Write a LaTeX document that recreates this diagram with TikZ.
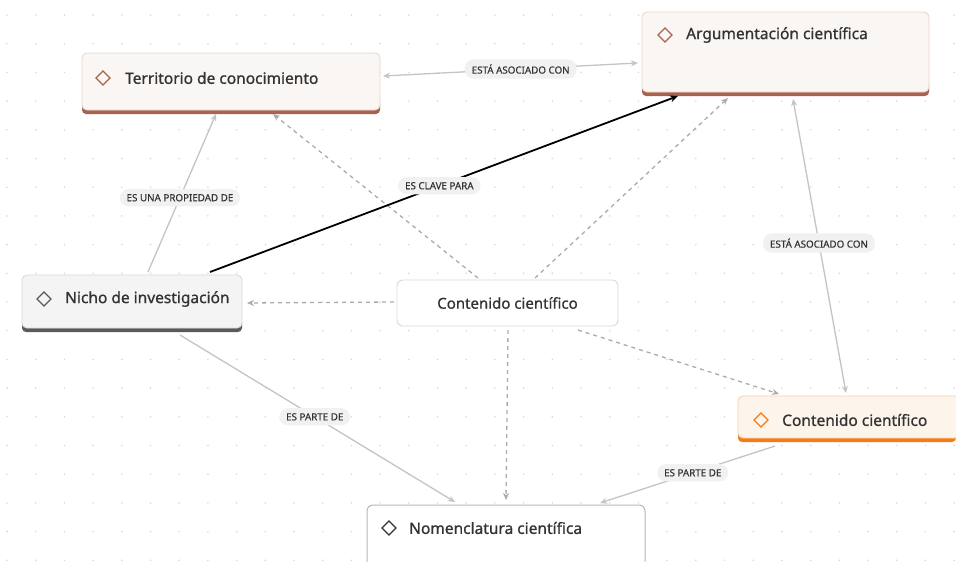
\documentclass[tikz,border=0pt]{standalone}
\usepackage{fontspec}
\setmainfont{Noto Sans}
\newfontfamily\semib{Noto Sans}[FakeBold=0.9]
\newfontfamily\lblf{Noto Sans}[FakeBold=0.3]
\usetikzlibrary{arrows.meta,calc}
\definecolor{brownbar}{HTML}{A8624F}
\definecolor{brownfill}{HTML}{FAF6F3}
\definecolor{brownedge}{HTML}{EAD6CE}
\definecolor{graybar}{HTML}{5A5A5A}
\definecolor{grayfill}{HTML}{F4F4F4}
\definecolor{grayedge}{HTML}{DADADA}
\definecolor{orangebar}{HTML}{F57C12}
\definecolor{orangefill}{HTML}{FDF4EC}
\definecolor{orangeedge}{HTML}{F6D2B2}
\definecolor{linkgray}{HTML}{C4C4C4}
\definecolor{dashgray}{HTML}{ABABAB}
\definecolor{pillfill}{HTML}{F1F1F1}
\definecolor{txt}{HTML}{333333}
\tikzset{
  x=1pt,y=-1pt,
  boxtext/.style={font=\semib\fontsize{15.5}{18}\selectfont, text=txt, anchor=west, inner sep=0pt},
  pill/.style={font=\lblf\fontsize{9.8}{11}\selectfont, text=txt, fill=pillfill, rounded corners=9pt, inner xsep=7pt, inner ysep=5pt},
  link/.style={draw=linkgray, line width=1.3pt, -{Stealth[length=7pt,width=6pt]}},
  duallink/.style={draw=linkgray, line width=1.3pt, {Stealth[length=7pt,width=6pt]}-{Stealth[length=7pt,width=6pt]}},
  dlink/.style={draw=dashgray, line width=1.3pt, dash pattern=on 4pt off 4pt, -{Stealth[length=7pt,width=6pt]}},
  blink/.style={draw=black, line width=1.8pt, -{Stealth[length=8pt,width=7pt]}},
}
\newcommand{\diam}[3]{% x,y,color
  \draw[#3, line width=1.2pt] (#1-7,#2) -- (#1,#2-7) -- (#1+7,#2) -- (#1,#2+7) -- cycle;
}
\begin{document}
\begin{tikzpicture}
\useasboundingbox (0,0) rectangle (956,562);
\fill[white] (0,0) rectangle (956,562);
% dot grid
\foreach \i in {0,...,33} {
  \foreach \j in {0,...,19} {
    \fill[black!15] ({7+\i*28.7},{15+\j*28.7}) circle (0.9);
  }
}
% Territorio
\fill[brownbar, rounded corners=4pt] (82,100) rectangle (380,114);
\fill[brownfill, rounded corners=5pt] (82,53) rectangle (380,110);
\draw[brownedge, line width=0.9pt, rounded corners=5pt] (82,53) rectangle (380,110);
\diam{103}{78}{brownbar}
\node[boxtext] (t) at (125,78) {Territorio de conocimiento};
% Argumentacion
\fill[brownbar, rounded corners=4pt] (642,80) rectangle (929,96);
\fill[brownfill, rounded corners=5pt] (642,12) rectangle (929,92);
\draw[brownedge, line width=0.9pt, rounded corners=5pt] (642,12) rectangle (929,92);
\diam{665}{35}{brownbar}
\node[boxtext] (a) at (686,35) {Argumentación científica};
% Nicho
\fill[graybar, rounded corners=4pt] (22,318) rectangle (242,332);
\fill[grayfill, rounded corners=5pt] (22,275) rectangle (242,328);
\draw[grayedge, line width=0.9pt, rounded corners=5pt] (22,275) rectangle (242,328);
\diam{44}{299}{graybar}
\node[boxtext] (n) at (65,299) {Nicho de investigación};
% Centre
\node[draw=grayedge, line width=0.9pt, fill=white, rounded corners=6pt, minimum width=221pt, minimum height=46pt, font=\semib\fontsize{15}{18}\selectfont, text=txt] (c) at (507.5,303) {Contenido científico};
% Orange
\fill[orangebar, rounded corners=4pt] (738,428) rectangle (956,442);
\fill[orangefill, rounded corners=5pt] (738,396) rectangle (960,438);
\draw[orangeedge, line width=0.9pt, rounded corners=5pt] (738,396) rectangle (960,438);
\diam{761}{420}{orangebar}
\node[boxtext] (o) at (782,420) {Contenido científico};
% Nomenclatura
\fill[white, rounded corners=6pt] (367,505) rectangle (645,575);
\draw[black!28, line width=1pt, rounded corners=6pt] (367,505) rectangle (645,575);
\diam{389}{528}{txt}
\node[boxtext] (m) at (409,528) {Nomenclatura científica};
% coordinates for edge ends
\coordinate (tE) at (383,76);
\coordinate (aW) at (638,63);
\coordinate (tB1) at (216,114);
\coordinate (tB2) at (273,114);
\coordinate (nT1) at (148,272);
\coordinate (nT2) at (210,272);
\coordinate (aB1) at (678,96);
\coordinate (aB2) at (728,98);
\coordinate (aB3) at (793,99);
\coordinate (cT1) at (478,278);
\coordinate (cT2) at (535,278);
\coordinate (cW) at (394,302);
\coordinate (nE) at (247,303);
\coordinate (cB) at (508,330);
\coordinate (mT1) at (506,500);
\coordinate (cBR) at (578,330);
\coordinate (oT1) at (779,394);
\coordinate (oT2) at (846,393);
\coordinate (nB) at (180,335);
\coordinate (mT2) at (455,502);
\coordinate (oB) at (775,446);
\coordinate (mT3) at (600,503);
% dashed edges
\draw[dlink] (cT1) -- (tB2);
\draw[dlink] (cT2) -- (aB2);
\draw[dlink] (cW) -- (nE);
\draw[dlink] (cB) -- (mT1);
\draw[dlink] (cBR) -- (oT1);
% solid edges
\draw[duallink] (tE) -- node[pill, pos=0.54] {ESTÁ ASOCIADO CON} (aW);
\draw[link] (nT1) -- node[pill, pos=0.47] {ES UNA PROPIEDAD DE} (tB1);
\draw[duallink] (aB3) -- node[pill, pos=0.49] {ESTÁ ASOCIADO CON} (oT2);
\draw[link] (nB) -- node[pill, pos=0.49] {ES PARTE DE} (mT2);
\draw[link] (oB) -- node[pill, pos=0.47] {ES PARTE DE} (mT3);
\draw[blink] (nT2) -- node[pill, pos=0.49] {ES CLAVE PARA} (aB1);
\end{tikzpicture}
\end{document}
